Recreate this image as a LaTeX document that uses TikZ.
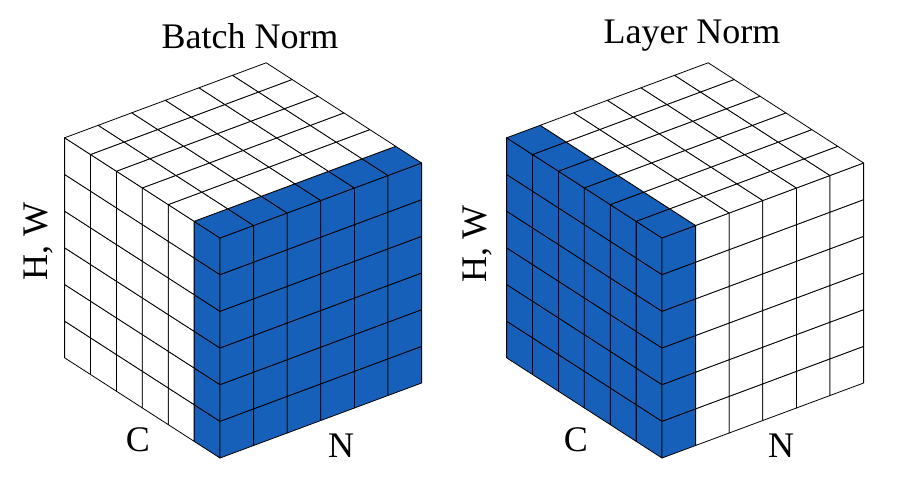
\documentclass[tikz,border=0pt]{standalone}
\usepackage{fontspec}
\setmainfont{Liberation Serif}
\definecolor{nblue}{RGB}{22,96,186}
\tikzset{cell/.style={draw=black,line width=0.8pt,line join=round},
lbl/.style={font=\fontsize{36}{40}\selectfont,inner sep=0pt}}
\newcommand{\mycube}[3]{% #1 front x, #2 front y, #3 mode
\begin{scope}[shift={(#1,#2)}]
\foreach \i in {0,...,5}{\foreach \j in {0,...,5}{
  \ifnum#3=1 \ifnum\i=0 \def\cc{nblue}\else\def\cc{white}\fi\else\def\cc{nblue}\fi
  \filldraw[cell,fill=\cc] ({-25.9*\i},{-16.7*\i-36.67*\j}) -- ++(-25.9,-16.7) -- ++(0,-36.67) -- ++(25.9,16.7) -- cycle;
  \ifnum#3=2 \ifnum\i=0 \def\cc{nblue}\else\def\cc{white}\fi\else\def\cc{nblue}\fi
  \filldraw[cell,fill=\cc] ({33.6*\i},{-12.5*\i-36.67*\j}) -- ++(33.6,-12.5) -- ++(0,-36.67) -- ++(-33.6,12.5) -- cycle;
}}
\foreach \i in {0,...,5}{\foreach \k in {0,...,5}{
  \def\cc{white}
  \ifnum#3=1 \ifnum\i=0 \def\cc{nblue}\fi\fi
  \ifnum#3=2 \ifnum\k=0 \def\cc{nblue}\fi\fi
  \filldraw[cell,fill=\cc] ({-25.9*\i+33.6*\k},{-220-16.7*\i-12.5*\k}) -- ++(-25.9,-16.7) -- ++(33.6,-12.5) -- ++(25.9,16.7) -- cycle;
}}
\end{scope}}
\begin{document}
\begin{tikzpicture}[x=1pt,y=-1pt]
\useasboundingbox (0,0) rectangle (914,490);
\fill[white] (0,0) rectangle (914,490);
\mycube{220}{458}{1}
\mycube{662}{458}{2}
\node[lbl] (t1) at (250,36) {Batch Norm};
\node[lbl] (t2) at (692,36) {Layer Norm};
\node[lbl,rotate=90] (h1) at (38,242) {H, W};
\node[lbl,rotate=90] (h2) at (477,244) {H, W};
\node[lbl] (c1) at (138,440) {C};
\node[lbl] (n1) at (341,446) {N};
\node[lbl] (c2) at (576,440) {C};
\node[lbl] (n2) at (781,446) {N};
\end{tikzpicture}
\end{document}
